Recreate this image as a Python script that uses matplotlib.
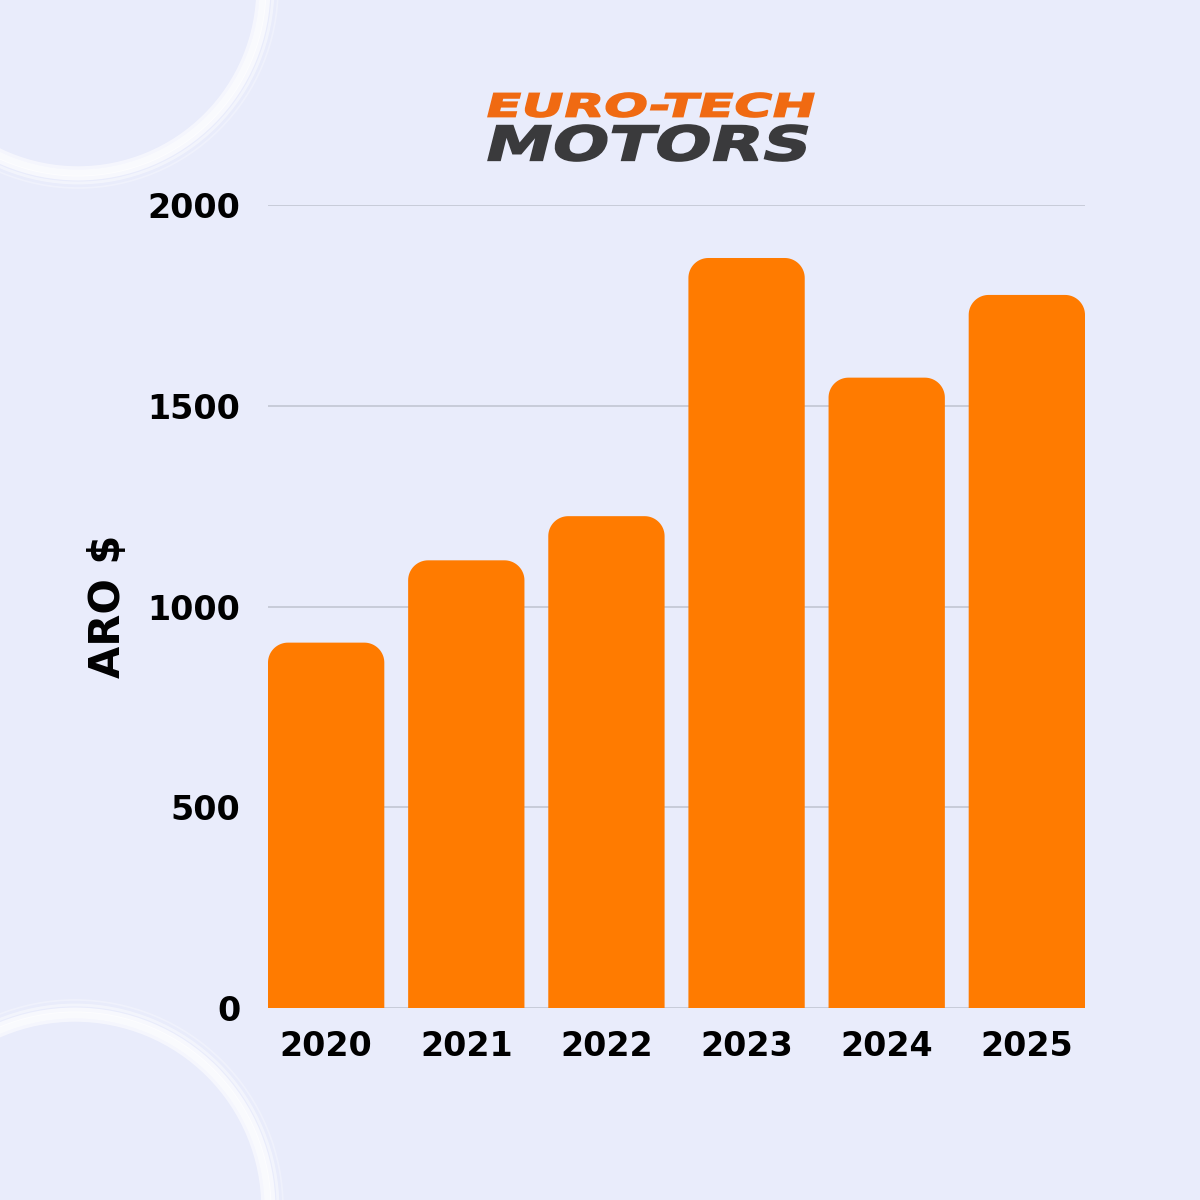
import numpy as np
import matplotlib
matplotlib.use("Agg")
import matplotlib.pyplot as plt
from matplotlib.patches import PathPatch, Arc
from matplotlib.textpath import TextPath
from matplotlib.font_manager import FontProperties
from matplotlib.transforms import Affine2D, IdentityTransform

# data
years = ["2020", "2021", "2022", "2023", "2024", "2025"]
aro = [910, 1115, 1225, 1868, 1570, 1776]
yticks = [0, 500, 1000, 1500, 2000]

bg = "#E9ECFB"
orange = "#FF7B00"
H = 1200  # figure height in px

fig = plt.figure(figsize=(12, 12), dpi=100, facecolor=bg)

# decorative white rings, in output pixels (y measured from top)
for (cx, cy), r0 in [((78, -12), 188), ((75, 1208), 196)]:
    for dr, lw, a in [(-8, 2.5, 0.55), (-3, 5, 0.75), (2, 3.5, 0.65), (7, 2, 0.45), (12, 1.2, 0.3)]:
        fig.add_artist(Arc((cx, H - cy), 2 * (r0 + dr), 2 * (r0 + dr), color="white",
                           lw=lw, alpha=a, transform=IdentityTransform(), zorder=0))

# logo: stretched bold text paths
fp = FontProperties(family="DejaVu Sans", weight="bold")


def logo_text(s, x0, x1, ytop, ybot, color, slant=0.25):
    tp = TextPath((0, 0), s, prop=fp, size=100)
    bb = tp.get_extents()
    h = ybot - ytop
    w = (x1 - x0) - h * slant
    tr = (Affine2D().translate(-bb.x0, -bb.y0)
          .scale(w / bb.width, h / bb.height)
          .skew(np.arctan(slant), 0)
          .translate(x0, H - ybot))
    fig.add_artist(PathPatch(tr.transform_path(tp), fc=color, ec=color, lw=1.2,
                             transform=IdentityTransform(), zorder=5))


logo_text("EURO-TECH", 488, 814, 93, 117, "#F06A12")
logo_text("MOTORS", 488, 811, 125, 161, "#3A3A3C")

# main chart
ax = fig.add_axes([268 / 1200, 192 / 1200, 817 / 1200, 803 / 1200])
ax.set_facecolor("none")
x = np.arange(len(years))
w = 0.83
ax.set_xlim(-w / 2, len(years) - 1 + w / 2)
ax.set_ylim(0, 2000)

px_x = 817 / (len(years) - 1 + w)  # px per x unit
px_y = 803 / 2000                   # px per y unit
r_px = 20
rx, ry = r_px / px_x, r_px / px_y
t = np.linspace(0, np.pi / 2, 20)
for xi, v in zip(x, aro):
    l, r = xi - w / 2, xi + w / 2
    xs = np.concatenate([[l], l + rx - rx * np.cos(t), r - rx + rx * np.sin(t), [r]])
    ys = np.concatenate([[0], v - ry + ry * np.sin(t), v - ry + ry * np.cos(t), [0]])
    ax.fill(xs, ys, color=orange, lw=0, zorder=2)

ax.set_yticks(yticks)
ax.set_yticklabels([str(t) for t in yticks])
ax.set_xticks(x)
ax.set_xticklabels(years)
ax.grid(axis="y", color="#C2C6D3", lw=1.2, zorder=0)
ax.set_axisbelow(True)
for s in ax.spines.values():
    s.set_visible(False)
ax.tick_params(axis="y", length=0, pad=20, labelsize=24)
ax.tick_params(axis="x", length=0, pad=16, labelsize=24)
for lab in ax.get_xticklabels() + ax.get_yticklabels():
    lab.set_fontweight("bold")
    lab.set_color("black")
ax.set_ylabel("ARO $", fontsize=30, fontweight="bold", labelpad=13)

fig.savefig("out.png", dpi=100, facecolor=bg)
